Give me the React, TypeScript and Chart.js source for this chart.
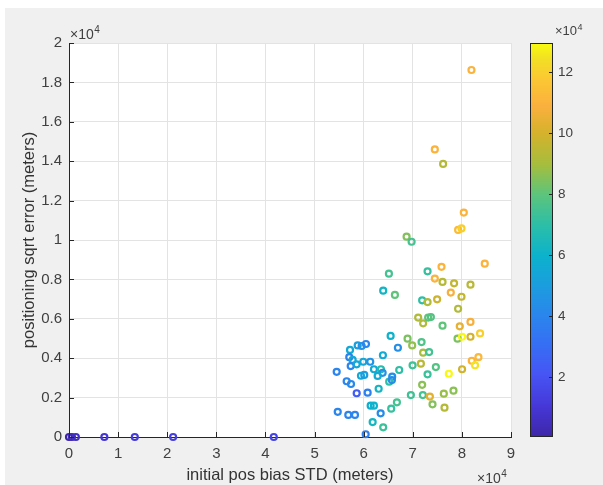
import { useEffect, useRef } from 'react';
import { Chart, registerables } from 'chart.js';

Chart.register(...registerables);

// x: initial pos bias STD (×1e4 m), y: positioning sqrt error (×1e4 m), c: colour value (×1e4)
const biasStd = [
  8.195, 7.449, 7.618, 8.039, 7.923, 7.992, 6.874, 6.976, 6.514, 7.301,
  7.585, 8.466, 6.398, 6.636, 7.449, 7.606, 7.841, 8.175, 7.774, 7.992,
  7.191, 7.301, 7.496, 7.923, 7.110, 7.211, 7.313, 7.368, 7.606, 8.175,
  7.957, 7.911, 8.004, 8.175, 8.370, 6.549, 6.894, 6.988, 7.179, 7.211,
  7.333, 6.697, 5.722, 5.878, 5.959, 6.047, 5.707, 5.776, 5.992, 6.134,
  6.392, 5.736, 5.858, 6.209, 6.352, 6.386, 5.945, 6.012, 6.285, 6.581,
  6.724, 6.996, 7.165, 7.470, 7.734, 8.004, 8.201, 8.337, 8.268, 5.451,
  5.654, 5.742, 6.520, 6.575, 7.301, 6.305, 5.858, 6.081, 6.961, 7.205,
  7.191, 7.348, 7.632, 7.829, 7.402, 7.646, 6.677, 6.561, 6.142, 6.209,
  6.346, 5.472, 5.687, 5.823, 6.183, 6.398, 6.041,
  0.0, 0.06, 0.14, 0.72, 1.34, 2.12, 4.17,
];
const sqrtError = [
  1.863, 1.460, 1.386, 1.139, 1.051, 1.059, 1.017, 0.991, 0.829, 0.841,
  0.864, 0.880, 0.743, 0.721, 0.804, 0.787, 0.780, 0.773, 0.733, 0.712,
  0.694, 0.685, 0.699, 0.651, 0.606, 0.577, 0.606, 0.609, 0.565, 0.584,
  0.562, 0.499, 0.509, 0.509, 0.526, 0.513, 0.499, 0.465, 0.482, 0.428,
  0.431, 0.453, 0.442, 0.465, 0.462, 0.472, 0.405, 0.391, 0.382, 0.382,
  0.415, 0.360, 0.369, 0.344, 0.344, 0.326, 0.311, 0.315, 0.310, 0.306,
  0.340, 0.364, 0.372, 0.355, 0.321, 0.344, 0.387, 0.405, 0.364, 0.331,
  0.283, 0.269, 0.281, 0.289, 0.318, 0.245, 0.222, 0.225, 0.213, 0.213,
  0.265, 0.205, 0.220, 0.235, 0.166, 0.149, 0.176, 0.144, 0.159, 0.159,
  0.120, 0.128, 0.112, 0.112, 0.076, 0.049, 0.014,
  0, 0, 0, 0, 0, 0, 0,
];
const colorValue = [
  11, 11, 9.3, 11, 11.3, 12, 8.5, 7.5, 7.5, 7.2,
  11, 11, 6.2, 8, 11, 9.3, 9.6, 9.4, 10.8, 9.6,
  7, 9.2, 9.8, 9.2, 9.2, 9.2, 8, 7.8, 8, 10.8,
  10.4, 8.4, 12.9, 10, 12, 6, 8.4, 8.7, 7.7, 9,
  7.5, 4.4, 5.5, 5.1, 4.5, 4, 3.8, 5.5, 5.5, 4.6,
  5.6, 4, 5.5, 5.6, 6.8, 4.5, 5.5, 5, 5.6, 4.5,
  7, 7.4, 9.4, 7.8, 12.9, 9.9, 11, 11.2, 12.5, 4,
  4, 4.2, 7, 4.3, 7.3, 6.2, 2.4, 3.8, 7.4, 7.5,
  8.6, 10.3, 8.8, 8.6, 8.5, 9.3, 7.5, 7.2, 5.8, 6,
  4.3, 4, 4, 4, 6.3, 7.3, 3.8,
  0.03, 0.3, 0.6, 1, 1.2, 1.3, 1.5,
];
const xTicks = [0, 1, 2, 3, 4, 5, 6, 7, 8, 9];
const yTicks = [0, 0.2, 0.4, 0.6, 0.8, 1, 1.2, 1.4, 1.6, 1.8, 2];
const cTicks = [2, 4, 6, 8, 10, 12];
const cMin = 0.03;
const cMax = 12.95;

const PARULA: [number, string][] = [
  [0.0, '#3e26a8'],
  [0.08, '#4638d8'],
  [0.16, '#4655f4'],
  [0.24, '#3570f4'],
  [0.31, '#2a86ec'],
  [0.38, '#1c9ce0'],
  [0.46, '#0cb2cc'],
  [0.54, '#2dbfa6'],
  [0.615, '#5cc47c'],
  [0.69, '#a4be3e'],
  [0.77, '#d4b22c'],
  [0.84, '#fbb03e'],
  [0.91, '#fbc832'],
  [0.96, '#f2e024'],
  [1.0, '#f9fb0e'],
];

function hexToRgb(h: string) {
  return [parseInt(h.slice(1, 3), 16), parseInt(h.slice(3, 5), 16), parseInt(h.slice(5, 7), 16)];
}

function parula(t: number) {
  const f = Math.max(0, Math.min(1, t));
  for (let i = 1; i < PARULA.length; i++) {
    if (f <= PARULA[i][0]) {
      const [f0, c0] = PARULA[i - 1];
      const [f1, c1] = PARULA[i];
      const k = (f - f0) / (f1 - f0);
      const a = hexToRgb(c0);
      const b = hexToRgb(c1);
      const r = Math.round(a[0] + (b[0] - a[0]) * k);
      const g = Math.round(a[1] + (b[1] - a[1]) * k);
      const bl = Math.round(a[2] + (b[2] - a[2]) * k);
      return `rgb(${r},${g},${bl})`;
    }
  }
  return PARULA[PARULA.length - 1][1];
}

const FONT = '"Liberation Sans", Arial, Helvetica, sans-serif';
const AXIS_COLOR = '#262626';
const TEXT_COLOR = '#404040';

function drawExponent(ctx: CanvasRenderingContext2D, x: number, y: number, size: number) {
  ctx.save();
  ctx.fillStyle = TEXT_COLOR;
  ctx.textAlign = 'left';
  ctx.textBaseline = 'alphabetic';
  ctx.font = `${size}px ${FONT}`;
  ctx.fillText('×10', x, y);
  const w = ctx.measureText('×10').width;
  ctx.font = `${Math.round(size * 0.72)}px ${FONT}`;
  ctx.fillText('4', x + w + 0.5, y - size * 0.42);
  ctx.restore();
}

const decorPlugin = {
  id: 'decor',
  beforeDraw(chart: any) {
    const { ctx, chartArea } = chart;
    ctx.save();
    ctx.fillStyle = '#ffffff';
    ctx.fillRect(0, 0, chart.width, chart.height);
    ctx.fillStyle = '#f0f0f0';
    ctx.fillRect(5, 8, chart.width - 5, chart.height - 8);
    ctx.fillStyle = '#ffffff';
    ctx.fillRect(chartArea.left, chartArea.top, chartArea.right - chartArea.left, chartArea.bottom - chartArea.top);
    ctx.restore();
  },
  afterDatasetsDraw(chart: any) {
    const { ctx, chartArea } = chart;
    const xs = chart.scales.x;
    const ys = chart.scales.y;
    const cs = chart.scales.cbar;
    ctx.save();
    ctx.strokeStyle = AXIS_COLOR;
    ctx.lineWidth = 1;
    ctx.beginPath();
    xTicks.forEach((v) => {
      const px = Math.round(xs.getPixelForValue(v)) + 0.5;
      ctx.moveTo(px, chartArea.bottom);
      ctx.lineTo(px, chartArea.bottom - 5);
    });
    yTicks.forEach((v) => {
      const py = Math.round(ys.getPixelForValue(v)) + 0.5;
      ctx.moveTo(chartArea.left, py);
      ctx.lineTo(chartArea.left + 5, py);
    });
    ctx.stroke();

    const bx = cs.left + 19;
    const bw = 23;
    const top = Math.round(cs.getPixelForValue(cMax));
    const bottom = Math.round(cs.getPixelForValue(cMin));
    for (let y = top; y < bottom; y++) {
      const v = cs.getValueForPixel(y + 0.5);
      ctx.fillStyle = parula((v - cMin) / (cMax - cMin));
      ctx.fillRect(bx, y, bw, 1);
    }
    ctx.strokeStyle = AXIS_COLOR;
    ctx.strokeRect(bx + 0.5, top + 0.5, bw - 1, bottom - top - 1);
    ctx.beginPath();
    cTicks.forEach((v) => {
      const py = Math.round(cs.getPixelForValue(v)) + 0.5;
      ctx.moveTo(bx + bw - 1, py);
      ctx.lineTo(bx + bw - 4, py);
    });
    ctx.stroke();
    ctx.restore();

    drawExponent(ctx, 70, 39, 14);
    drawExponent(ctx, 477, 483, 14);
    drawExponent(ctx, 555, 35, 13);
  },
};

export default function App() {
  const ref = useRef<HTMLCanvasElement | null>(null);
  useEffect(() => {
    if (!ref.current) return;
    const points = biasStd.map((x, i) => ({ x, y: sqrtError[i] }));
    const colors = colorValue.map((c) => parula((c - cMin) / (cMax - cMin)));
    const chart = new Chart(ref.current, {
      type: 'scatter',
      data: {
        datasets: [
          {
            data: points,
            pointRadius: 3,
            pointHoverRadius: 3,
            pointBorderWidth: 2.2,
            pointBorderColor: colors,
            pointBackgroundColor: 'rgba(0,0,0,0)',
            clip: false,
          } as any,
        ],
      },
      options: {
        animation: false,
        responsive: false,
        events: [],
        layout: { padding: { top: 43, left: 0, right: 0, bottom: 0 } },
        plugins: { legend: { display: false }, tooltip: { enabled: false } },
        scales: {
          x: {
            type: 'linear',
            position: 'bottom',
            min: 0,
            max: 9,
            afterBuildTicks: (s: any) => { s.ticks = xTicks.map((v) => ({ value: v })); },
            afterFit: (s: any) => { s.height = 48; },
            grid: { color: '#e3e3e3', drawTicks: false, lineWidth: 1 },
            border: { display: true, color: AXIS_COLOR, width: 1 },
            ticks: {
              padding: 8,
              color: TEXT_COLOR,
              font: { family: FONT, size: 15 },
              maxRotation: 0,
              autoSkip: false,
              callback: (v: any) => String(v),
            },
            title: {
              display: true,
              text: 'initial pos bias STD (meters)',
              color: '#333333',
              font: { family: FONT, size: 16.5 },
              padding: { top: 0, bottom: 0 },
            },
          },
          y: {
            type: 'linear',
            position: 'left',
            min: 0,
            max: 2,
            afterBuildTicks: (s: any) => { s.ticks = yTicks.map((v) => ({ value: v })); },
            afterFit: (s: any) => { s.width = 69; },
            grid: { color: '#e3e3e3', drawTicks: false, lineWidth: 1 },
            border: { display: true, color: AXIS_COLOR, width: 1 },
            ticks: {
              padding: 7,
              color: TEXT_COLOR,
              font: { family: FONT, size: 15 },
              autoSkip: false,
              callback: (v: any) => String(Math.round(v * 10) / 10),
            },
            title: {
              display: true,
              text: 'positioning sqrt error (meters)',
              color: '#333333',
              font: { family: FONT, size: 16.5 },
              padding: { top: 20, bottom: 0 },
            },
          },
          cbar: {
            type: 'linear',
            position: 'right',
            min: cMin,
            max: cMax,
            afterBuildTicks: (s: any) => { s.ticks = cTicks.map((v) => ({ value: v })); },
            afterFit: (s: any) => { s.width = 92; },
            grid: {
              display: true,
              drawOnChartArea: false,
              drawTicks: true,
              tickLength: 47,
              color: 'rgba(0,0,0,0)',
            },
            border: { display: false },
            ticks: {
              padding: 0,
              color: TEXT_COLOR,
              font: { family: FONT, size: 13.5 },
              autoSkip: false,
              callback: (v: any) => String(v),
            },
          },
        },
      } as any,
      plugins: [decorPlugin],
    });
    return () => chart.destroy();
  }, []);
  return (
    <div style={{ position: 'fixed', left: 0, top: 0, width: 603, height: 485 }}>
      <canvas ref={ref} width={603} height={485} style={{ display: 'block' }} />
    </div>
  );
}
